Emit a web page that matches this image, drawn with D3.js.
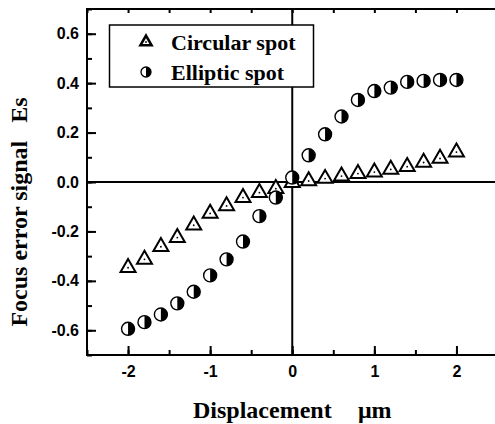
<!DOCTYPE html>
<html>
<head>
<meta charset="utf-8">
<script src="https://cdn.jsdelivr.net/npm/d3@7"></script>
<style>
  body { margin: 0; background: #fff; }
  svg { display: block; }
</style>
</head>
<body>
<div id="chart"></div>
<script>
// data
var displacement = [-2, -1.8, -1.6, -1.4, -1.2, -1, -0.8, -0.6, -0.4, -0.2, 0,
                    0.2, 0.4, 0.6, 0.8, 1, 1.2, 1.4, 1.6, 1.8, 2];
var circularSpot = [-0.347, -0.313, -0.262, -0.225, -0.175, -0.127, -0.097, -0.063, -0.043, -0.027, -0.003,
                    0.004, 0.014, 0.024, 0.034, 0.040, 0.051, 0.062, 0.079, 0.095, 0.121];
var ellipticSpot = [-0.594, -0.567, -0.536, -0.491, -0.444, -0.378, -0.313, -0.241, -0.138, -0.063, 0.018,
                    0.108, 0.193, 0.265, 0.332, 0.368, 0.382, 0.405, 0.409, 0.413, 0.413];
var xTicks = [-2, -1, 0, 1, 2];
var yTicks = [-0.6, -0.4, -0.2, 0, 0.2, 0.4, 0.6];
var legendLabels = ["Circular spot", "Elliptic spot"];

var width = 495, height = 424;
var plotLeft = 87, plotTop = 9, plotBottom = 355;

var svg = d3.select("#chart").append("svg")
  .attr("width", width)
  .attr("height", height);

var x = d3.scaleLinear().domain([-2.5, 2.5]).range([plotLeft, plotLeft + 5 * 82.1]);
var y = d3.scaleLinear().domain([-0.7, 0.7]).range([plotBottom, plotTop]);

var serif = "'Liberation Serif', 'Times New Roman', serif";
var sans = "'Liberation Sans', Arial, sans-serif";

// plain hyphen instead of the unicode minus d3 uses
function fmt(spec) {
  var f = d3.format(spec);
  return function(d) { return f(d).replace("\u2212", "-"); };
}

function styleAxis(g) {
  g.select(".domain").remove();
  g.selectAll("line").attr("stroke", "#000").attr("stroke-width", 2);
  g.selectAll("text").attr("font-family", sans).attr("font-weight", "bold")
    .attr("font-size", 16).attr("fill", "#000");
}

// bottom axis, ticks pointing inward
svg.append("g")
  .attr("transform", "translate(0," + plotBottom + ")")
  .call(d3.axisBottom(x).tickValues(d3.range(-2.5, 2.51, 0.5)).tickSize(-5).tickFormat(""))
  .call(styleAxis);
svg.append("g")
  .attr("transform", "translate(0," + plotBottom + ")")
  .call(d3.axisBottom(x).tickValues(xTicks).tickSize(-9).tickPadding(11).tickFormat(fmt("d")))
  .call(styleAxis);

// top axis, short inward ticks
svg.append("g")
  .attr("transform", "translate(0," + plotTop + ")")
  .call(d3.axisTop(x).tickValues(d3.range(-2.5, 2.51, 0.5)).tickSize(-4).tickFormat(""))
  .call(styleAxis);

// left axis
svg.append("g")
  .attr("transform", "translate(" + plotLeft + ",0)")
  .call(d3.axisLeft(y).tickValues(d3.range(-0.7, 0.71, 0.1)).tickSize(-5).tickFormat(""))
  .call(styleAxis);
svg.append("g")
  .attr("transform", "translate(" + plotLeft + ",0)")
  .call(d3.axisLeft(y).tickValues(yTicks).tickSize(-9).tickPadding(8).tickFormat(fmt(".1f")))
  .call(styleAxis);

// frame (right side is off the canvas)
svg.append("path")
  .attr("d", "M" + x(2.5) + "," + plotTop + "H" + plotLeft + "V" + plotBottom + "H" + x(2.5))
  .attr("fill", "none").attr("stroke", "#000").attr("stroke-width", 2);

// zero lines
svg.append("line")
  .attr("x1", plotLeft).attr("x2", x(2.5)).attr("y1", y(0)).attr("y2", y(0))
  .attr("stroke", "#000").attr("stroke-width", 2);
svg.append("line")
  .attr("x1", x(0)).attr("x2", x(0)).attr("y1", plotTop).attr("y2", plotBottom)
  .attr("stroke", "#000").attr("stroke-width", 2);

// markers
function triangle(g, s, sw) {
  var h = s * Math.sqrt(3) / 2;
  g.append("path")
    .attr("d", "M0," + (-h * 2 / 3) + "L" + (s / 2) + "," + (h / 3) + "L" + (-s / 2) + "," + (h / 3) + "Z")
    .attr("fill", "#fff").attr("stroke", "#000").attr("stroke-width", sw)
    .attr("stroke-linejoin", "miter");
  g.append("circle").attr("r", 0.9).attr("fill", "#000");
}
function halfCircle(g, r, sw) {
  g.append("circle").attr("r", r).attr("fill", "#fff").attr("stroke", "#000").attr("stroke-width", sw);
  g.append("path")
    .attr("d", "M0," + (-r) + "A" + r + "," + r + " 0 0 1 0," + r + "Z")
    .attr("fill", "#000");
}

svg.append("g").selectAll("g")
  .data(displacement)
  .enter().append("g")
  .attr("transform", function(d, i) { return "translate(" + x(d) + "," + y(circularSpot[i]) + ")"; })
  .each(function() { triangle(d3.select(this), 15, 2); });

svg.append("g").selectAll("g")
  .data(displacement)
  .enter().append("g")
  .attr("transform", function(d, i) { return "translate(" + x(d) + "," + y(ellipticSpot[i]) + ")"; })
  .each(function() { halfCircle(d3.select(this), 6.5, 1.4); });

// legend
var legend = svg.append("g");
legend.append("rect")
  .attr("x", 109.5).attr("y", 25).attr("width", 204).attr("height", 62)
  .attr("fill", "#fff").attr("stroke", "#000").attr("stroke-width", 1.5);
legendLabels.forEach(function(label, i) {
  var cy = 42 + i * 30;
  var m = legend.append("g").attr("transform", "translate(146," + cy + ")");
  if (i == 0) triangle(m, 11, 2.6);
  else halfCircle(m, 5, 1.3);
  legend.append("text")
    .attr("x", 171).attr("y", cy + 7.5)
    .attr("font-family", serif).attr("font-weight", "bold").attr("font-size", 22)
    .text(label);
});

// axis titles
var xTitle = svg.append("text")
  .attr("y", 418)
  .attr("font-family", serif).attr("font-weight", "bold").attr("font-size", 24);
xTitle.append("tspan").attr("x", 193).text("Displacement");
xTitle.append("tspan").attr("x", 358).text("\u03bcm");

svg.append("text")
  .attr("transform", "translate(27,212) rotate(-90)")
  .attr("text-anchor", "middle")
  .attr("font-family", serif).attr("font-weight", "bold").attr("font-size", 24)
  .attr("xml:space", "preserve")
  .text("Focus error signal   Es");
</script>
</body>
</html>
